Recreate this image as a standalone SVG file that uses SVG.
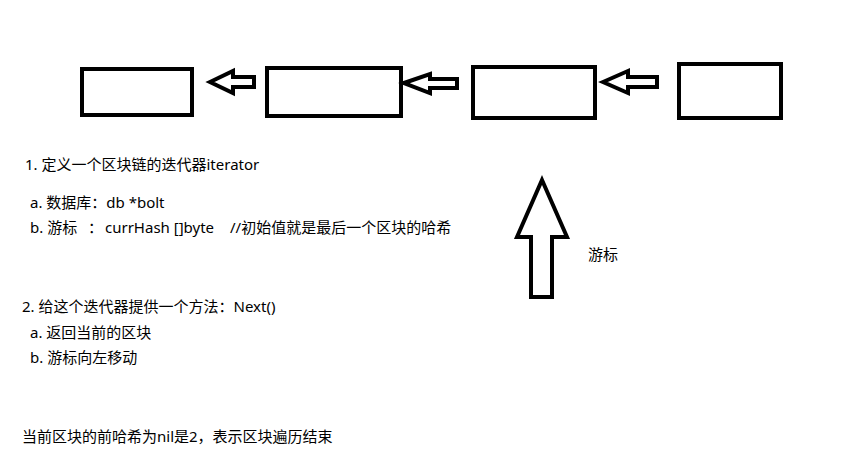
<svg xmlns="http://www.w3.org/2000/svg" width="866" height="471" viewBox="0 0 866 471">
<style>
.box{fill:#fff;stroke:#000;stroke-width:4}
.arr{fill:#fff;stroke:#000;stroke-width:4;stroke-linejoin:miter}
text{font-family:"Noto Sans","Noto Sans CJK SC",sans-serif;font-size:15px;fill:#000}
</style>
<rect width="866" height="471" fill="#fff"/>
<g id="block1"><rect class="box" x="82" y="69" width="110" height="46"/></g>
<g id="block2"><rect class="box" x="267" y="68" width="134" height="48"/></g>
<g id="block3"><rect class="box" x="473" y="67" width="122" height="51"/></g>
<g id="block4"><rect class="box" x="679" y="64" width="102" height="54"/></g>
<g id="connectors">
<polygon class="arr" points="210,82 233,71 233,77 254,77 254,87 233,87 233,93"/>
<polygon class="arr" points="404,83 430,74 430,79 457,79 457,88 430,88 430,93"/>
<polygon class="arr" points="603,82 628,71 628,77 657,77 657,87 628,87 628,93"/>
<polygon class="arr" points="542,180 567,237 552,237 552,297 531,297 531,237 517,237"/>
</g>
<g id="notes">
<text x="25" y="170">1. 定义一个区块链的迭代器iterator</text>
<text x="30" y="208">a. 数据库：db *bolt</text>
<text y="233"><tspan x="30">b. 游标</tspan><tspan x="88">：</tspan><tspan x="105">currHash []byte</tspan><tspan x="230">//初始值就是最后一个区块的哈希</tspan></text>
<text x="588" y="260">游标</text>
<text x="22" y="312">2. 给这个迭代器提供一个方法：Next()</text>
<text x="30" y="338">a. 返回当前的区块</text>
<text x="30" y="363">b. 游标向左移动</text>
<text x="22" y="442">当前区块的前哈希为nil是2，表示区块遍历结束</text>
</g>
</svg>
